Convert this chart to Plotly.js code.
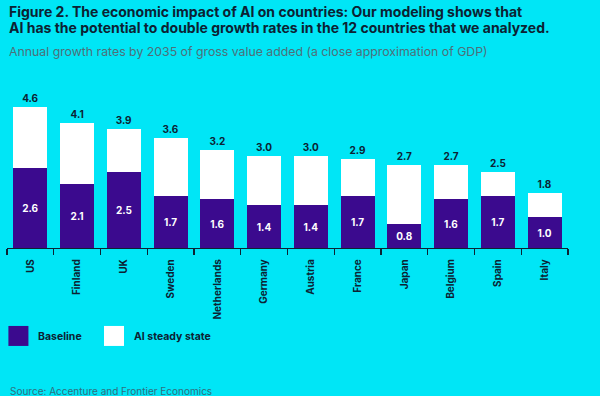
<!DOCTYPE html>
<html>
<head>
<meta charset="utf-8">
<script src="https://cdn.plot.ly/plotly-3.0.1.min.js"></script>
<style>
html,body{margin:0;padding:0;background:#00E6F6;}
#chart{width:600px;height:396px;}
</style>
</head>
<body>
<div id="chart"></div>
<script>
var countries = ["US","Finland","UK","Sweden","Netherlands","Germany","Austria","France","Japan","Belgium","Spain","Italy"];
var baseline = [2.6,2.1,2.5,1.7,1.6,1.4,1.4,1.7,0.8,1.6,1.7,1.0];
var aiSteadyState = [4.6,4.1,3.9,3.6,3.2,3.0,3.0,2.9,2.7,2.7,2.5,1.8];

var bg = "#00E6F6";
var purple = "#3B0A8E";
var dark = "#0C2233";
var fontFam = "Inter, Roboto, 'DejaVu Sans', sans-serif";

var increment = aiSteadyState.map(function(v,i){ return +(v - baseline[i]).toFixed(2); });

var traces = [
  {
    type: "bar", name: "Baseline", x: countries, y: baseline,
    marker: {color: purple, line: {width: 0}},
    text: baseline.map(function(v){ return v.toFixed(1); }),
    textposition: "inside", insidetextanchor: "middle",
    textfont: {family: fontFam, size: 10, color: "#ffffff", weight: 700},
    hoverinfo: "skip", showlegend: false
  },
  {
    type: "bar", name: "AI steady state", x: countries, y: increment,
    marker: {color: "#ffffff", line: {width: 0}},
    text: aiSteadyState.map(function(v){ return v.toFixed(1); }),
    textposition: "outside", cliponaxis: false,
    textfont: {family: fontFam, size: 10, color: dark, weight: 700},
    hoverinfo: "skip", showlegend: false
  }
];

var layout = {
  width: 600, height: 396,
  paper_bgcolor: bg, plot_bgcolor: bg,
  margin: {l: 7, r: 32, t: 80, b: 148},
  barmode: "stack", bargap: 0.27,
  font: {family: fontFam, color: dark},
  xaxis: {
    type: "category", range: [-0.5, 11.5],
    showline: true, linecolor: dark, linewidth: 1.2,
    ticks: "outside", tickson: "boundaries", ticklen: 6, tickcolor: dark, tickwidth: 1.2,
    tickangle: -90, ticklabelstandoff: 6,
    tickfont: {family: fontFam, size: 10, color: dark, weight: 700},
    showgrid: false, zeroline: false, fixedrange: true
  },
  yaxis: {
    range: [0, 5.49], visible: false, showgrid: false, zeroline: false, fixedrange: true
  },
  shapes: [
    {type: "rect", xref: "paper", yref: "paper", x0: 0.0025, x1: 0.0382, y0: -0.583, y1: -0.464,
     fillcolor: purple, line: {width: 0}},
    {type: "rect", xref: "paper", yref: "paper", x0: 0.1729, x1: 0.2086, y0: -0.583, y1: -0.464,
     fillcolor: "#ffffff", line: {width: 0}}
  ],
  annotations: [
    {text: "Figure 2. The economic impact of AI on countries: Our modeling shows that",
     xref: "paper", yref: "paper", x: 0.0005, y: 1.41, xanchor: "left", yanchor: "middle",
     showarrow: false, font: {family: fontFam, size: 14, color: dark, weight: 700}},
    {text: "AI has the potential to double growth rates in the 12 countries that we analyzed.",
     xref: "paper", yref: "paper", x: 0.0005, y: 1.311, xanchor: "left", yanchor: "middle",
     showarrow: false, font: {family: fontFam, size: 14, color: dark, weight: 700}},
    {text: "Annual growth rates by 2035 of gross value added (a close approximation of GDP)",
     xref: "paper", yref: "paper", x: 0.0005, y: 1.17, xanchor: "left", yanchor: "middle",
     showarrow: false, font: {family: fontFam, size: 12.3, color: "#4E6F79", weight: 400}},
    {text: "Baseline", xref: "paper", yref: "paper", x: 0.0517, y: -0.524, xanchor: "left", yanchor: "middle",
     showarrow: false, font: {family: fontFam, size: 10.5, color: dark, weight: 700}},
    {text: "AI steady state", xref: "paper", yref: "paper", x: 0.2228, y: -0.524, xanchor: "left", yanchor: "middle",
     showarrow: false, font: {family: fontFam, size: 10.5, color: dark, weight: 700}},
    {text: "Source: Accenture and Frontier Economics", xref: "paper", yref: "paper", x: 0.0018, y: -0.851,
     xanchor: "left", yanchor: "middle",
     showarrow: false, font: {family: fontFam, size: 10, color: "#2F6E7E"}}
  ]
};

Plotly.newPlot("chart", traces, layout, {displayModeBar: false, staticPlot: true});
</script>
</body>
</html>
